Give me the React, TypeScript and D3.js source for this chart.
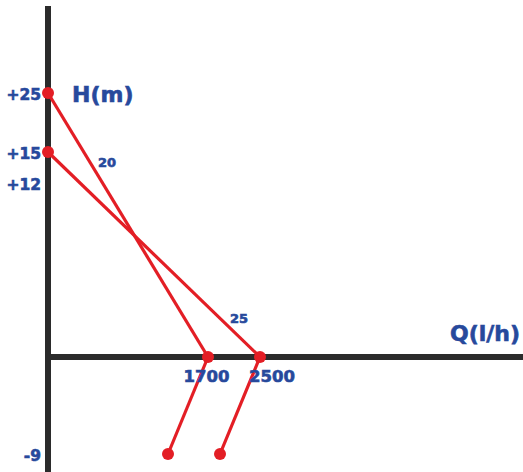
import * as d3 from 'd3';

// values
const hTicks = [25, 15, 12, -9];
const qTicks = [1700, 2500];
const startH = [25, 15];
const zeroQ = [1700, 2500];
const endQ = [1275, 1885];
const endH = -9;
const curveLabels = ['20', '25'];
const curveLabelQ = [531, 2038];
const curveLabelH = [13.55, 2.34];

const width = 523;
const height = 472;
const red = '#e31e25';
const blue = '#27499c';
const axisColor = '#2b2b2b';
const font = "'DejaVu Sans', sans-serif";

// hand-drawn sketch: axis spacing is not uniform, so piecewise scales
const x = d3.scaleLinear().domain([0, 1700, 2500]).range([48, 208, 260]);
const y = d3.scaleLinear().domain([-9, 0, 12, 15, 25]).range([454, 357, 183, 152, 93]);

// the 2500 label sits a bit right of its point in the sketch
const qLabelNudge = [-1.5, 12];

function App() {
    const line = d3.line<[number, number]>().x(d => x(d[0])).y(d => y(d[1]));

    const segments: [number, number][][] = [];
    startH.forEach((h, i) => {
        segments.push([[0, h], [zeroQ[i], 0]]);
        segments.push([[zeroQ[i], 0], [endQ[i], endH]]);
    });

    const dots: [number, number][] = [
        ...startH.map(h => [0, h] as [number, number]),
        ...zeroQ.map(q => [q, 0] as [number, number]),
        ...endQ.map(q => [q, endH] as [number, number]),
    ];

    const textProps = { fill: blue, stroke: blue, strokeWidth: 0.6 };

    return (
        <svg width={width} height={height}
             style={{ position: 'absolute', left: 0, top: 0, display: 'block', background: '#fff' }}
             fontFamily={font} fontWeight="bold">
            {/* axes */}
            <line x1={x(0)} x2={x(0)} y1={6} y2={height} stroke={axisColor} strokeWidth={6} />
            <line x1={x(0)} x2={width} y1={y(0)} y2={y(0)} stroke={axisColor} strokeWidth={6} />

            {segments.map((s, i) => (
                <path key={i} d={line(s) ?? ''} fill="none" stroke={red} strokeWidth={3.2} />
            ))}
            {dots.map((d, i) => (
                <circle key={i} cx={x(d[0])} cy={y(d[1])} r={6} fill={red} />
            ))}

            {hTicks.map(h => (
                <text key={h} x={x(0) - 7} y={y(h) + 6.5} textAnchor="end" fontSize={15.5} {...textProps}>
                    {h > 0 ? `+${h}` : `${h}`}
                </text>
            ))}
            {qTicks.map((q, i) => (
                <text key={q} x={x(q) + qLabelNudge[i]} y={y(0) + 25} textAnchor="middle" fontSize={16.5} {...textProps}>
                    {q}
                </text>
            ))}
            {curveLabels.map((l, i) => (
                <text key={l} x={x(curveLabelQ[i])} y={y(curveLabelH[i])} fontSize={13} {...textProps}>
                    {l}
                </text>
            ))}

            <text x={72} y={102} fontSize={22} {...textProps}>H(m)</text>
            <text x={520} y={341} textAnchor="end" fontSize={22} {...textProps}>Q(l/h)</text>
        </svg>
    );
}

export default App;
